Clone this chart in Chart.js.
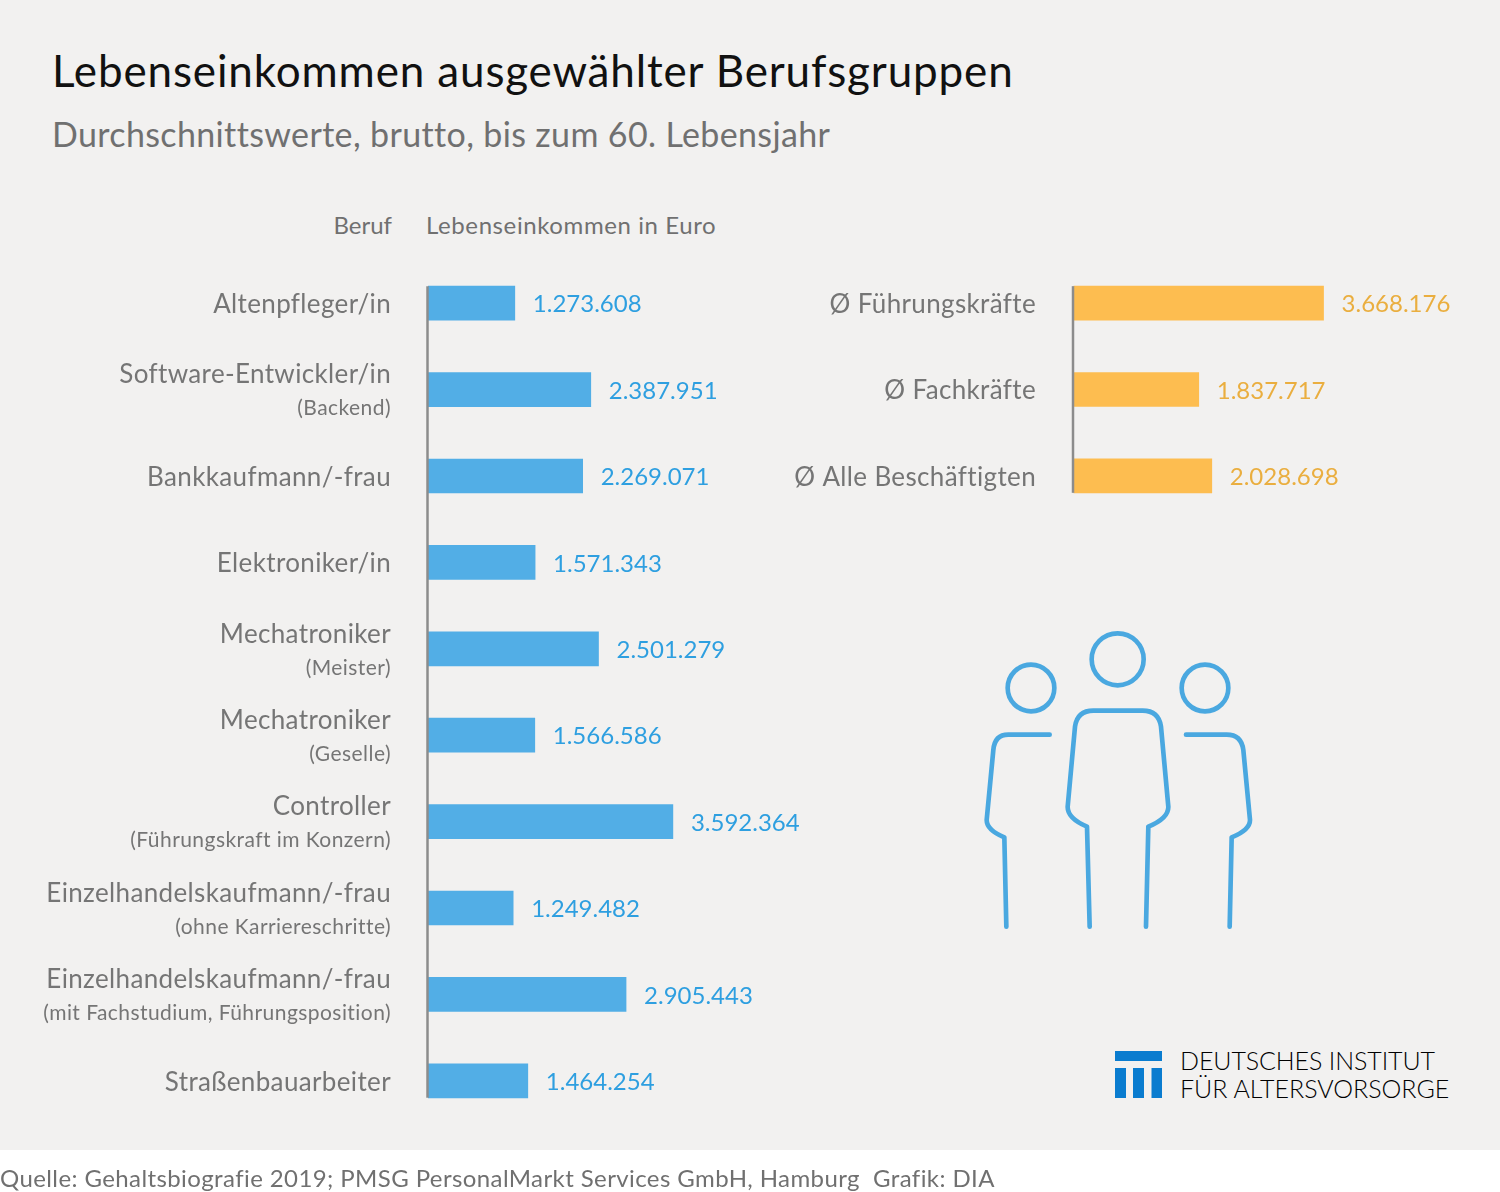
<!DOCTYPE html>
<html lang="de">
<head>
<meta charset="utf-8">
<title>Lebenseinkommen ausgewählter Berufsgruppen</title>
<script src="https://cdn.jsdelivr.net/npm/chart.js@4"></script>
<style>
  html, body { margin: 0; padding: 0; background: #fff; }
  #page { position: relative; width: 1500px; height: 1192px; overflow: hidden; font-family: Lato, sans-serif; font-variant-ligatures: none; }
  #panel { position: absolute; left: 0; top: 0; width: 1500px; height: 1150px; background: #f2f1f0; }
  canvas { position: absolute; top: 0; }
  .txt { position: absolute; white-space: nowrap; line-height: 1; }
  svg { position: absolute; }
</style>
</head>
<body>
<div id="page">
  <div id="panel"></div>
  <div class="txt" style="left:52px;top:48px;font-size:44px;letter-spacing:.86px;color:#111;">Lebenseinkommen ausgewählter Berufsgruppen</div>
  <div class="txt" style="left:52px;top:117px;font-size:34px;letter-spacing:.36px;color:#707070;">Durchschnittswerte, brutto, bis zum 60. Lebensjahr</div>
  <div class="txt" style="right:1108px;top:213px;font-size:24px;color:#707070;">Beruf</div>
  <div class="txt" style="left:426px;top:213px;font-size:24px;letter-spacing:.6px;color:#707070;">Lebenseinkommen in Euro</div>

  <canvas id="berufChart" width="860" height="1192" style="left:0"></canvas>
  <canvas id="schnittChart" width="740" height="560" style="left:760px"></canvas>

  <svg style="left:960px;top:610px" width="320" height="330" viewBox="0 0 960 990" fill="none" stroke="#4aa8e0" stroke-width="14" stroke-linecap="round" stroke-linejoin="round">
    <circle cx="473" cy="148" r="78"/>
    <circle cx="213" cy="234" r="70"/>
    <circle cx="735" cy="234" r="70"/>
    <path d="M389 950 L381 650 Q322 625 323 590 L345 350 Q352 302 400 302 L548 302 Q596 302 603 350 L625 590 Q626 625 565 650 L558 950"/>
    <path d="M269 374 L145 374 Q104 374 100 420 L80 630 Q80 660 133 682 L139 950"/>
    <path d="M678 374 L800 374 Q844 374 850 420 L870 630 Q870 660 815 682 L809 950"/>
  </svg>

  <svg style="left:1115px;top:1051px" width="47" height="48" fill="#0a7ccf">
    <rect x="0" y="0" width="47" height="10"/>
    <rect x="0" y="17" width="11" height="30"/>
    <rect x="18" y="17" width="11" height="30"/>
    <rect x="36.500" y="17" width="10.500" height="30"/>
  </svg>
  <div class="txt" style="left:1180px;top:1048px;font-size:25px;font-weight:300;letter-spacing:-.1px;color:#000;">DEUTSCHES INSTITUT</div>
  <div class="txt" style="left:1180px;top:1076px;font-size:25px;font-weight:300;letter-spacing:0;color:#000;">FÜR ALTERSVORSORGE</div>

  <div class="txt" style="left:0;top:1166px;font-size:24px;letter-spacing:.4px;color:#707070;">Quelle: Gehaltsbiografie 2019; PMSG PersonalMarkt Services GmbH, Hamburg&nbsp; Grafik: DIA</div>
</div>

<script>
var berufe = ["Altenpfleger/in", "Software-Entwickler/in", "Bankkaufmann/-frau", "Elektroniker/in", "Mechatroniker", "Mechatroniker", "Controller", "Einzelhandelskaufmann/-frau", "Einzelhandelskaufmann/-frau", "Straßenbauarbeiter"];
var berufeZusatz = ["", "(Backend)", "", "", "(Meister)", "(Geselle)", "(Führungskraft im Konzern)", "(ohne Karriereschritte)", "(mit Fachstudium, Führungsposition)", ""];
var einkommen = [1273608, 2387951, 2269071, 1571343, 2501279, 1566586, 3592364, 1249482, 2905443, 1464254];

var gruppen = ["Ø Führungskräfte", "Ø Fachkräfte", "Ø Alle Beschäftigten"];
var gruppenZusatz = ["", "", ""];
var gruppenEinkommen = [3668176, 1837717, 2028698];

var achseMax = 6000000;
var grau = "#757575";

function formatEuro(wert) {
  return String(wert).replace(/\B(?=(\d{3})+$)/g, ".");
}

// draws the axis line, the category labels and the values next to the bars
var beschriftung = {
  id: "beschriftung",
  afterDatasetsDraw: function (chart, args, opts) {
    var ctx = chart.ctx;
    var bars = chart.getDatasetMeta(0).data;
    var yScale = chart.scales.y;
    var x0 = chart.scales.x.getPixelForValue(0);

    ctx.save();
    ctx.strokeStyle = "#8c8c8c";
    ctx.lineWidth = 2.5;
    ctx.beginPath();
    ctx.moveTo(x0 - 0.5, bars[0].y - bars[0].height / 2);
    ctx.lineTo(x0 - 0.5, bars[bars.length - 1].y + bars[bars.length - 1].height / 2);
    ctx.stroke();

    ctx.textBaseline = "middle";
    chart.data.labels.forEach(function (label, i) {
      var y = yScale.getPixelForValue(i);
      var zusatz = opts.zusatz[i];
      ctx.textAlign = "right";
      ctx.fillStyle = grau;
      ctx.letterSpacing = "0.36px";
      ctx.font = "26px Lato";
      ctx.fillText(label, opts.labelX, zusatz ? y - 14.5 : y + 1.5);
      if (zusatz) {
        ctx.letterSpacing = "0.44px";
        ctx.font = "21px Lato";
        ctx.fillText(zusatz, opts.labelX, y + 19);
      }
      ctx.textAlign = "left";
      ctx.fillStyle = opts.wertFarbe;
      ctx.letterSpacing = "0px";
      ctx.font = "24px Lato";
      ctx.fillText(formatEuro(chart.data.datasets[0].data[i]), bars[i].x + 18, y + 1.5);
    });
    ctx.restore();
  }
};

function balkenChart(canvasId, labels, werte, farbe, wertFarbe, zusatz, labelX, padding) {
  return new Chart(document.getElementById(canvasId), {
    type: "bar",
    data: {
      labels: labels,
      datasets: [{ data: werte, backgroundColor: farbe, barThickness: 34, borderWidth: 0 }]
    },
    options: {
      indexAxis: "y",
      responsive: false,
      animation: false,
      layout: { padding: padding },
      scales: {
        x: { display: false, min: 0, max: achseMax },
        y: { display: false }
      },
      plugins: {
        legend: { display: false },
        tooltip: { enabled: false },
        beschriftung: { zusatz: zusatz, labelX: labelX, wertFarbe: wertFarbe }
      }
    },
    plugins: [beschriftung]
  });
}

var ready = document.fonts && document.fonts.load ? document.fonts.load("26px Lato") : Promise.resolve();
ready.finally(function () {
  balkenChart("berufChart", berufe, einkommen, "#52aee6", "#2e9fe0", berufeZusatz, 391,
    { left: 428, right: 23, top: 260, bottom: 68 });
  balkenChart("schnittChart", gruppen, gruppenEinkommen, "#fdbd50", "#eaae3f", gruppenZusatz, 276,
    { left: 313.5, right: 17.5, top: 260, bottom: 41 });
});
</script>
</body>
</html>
